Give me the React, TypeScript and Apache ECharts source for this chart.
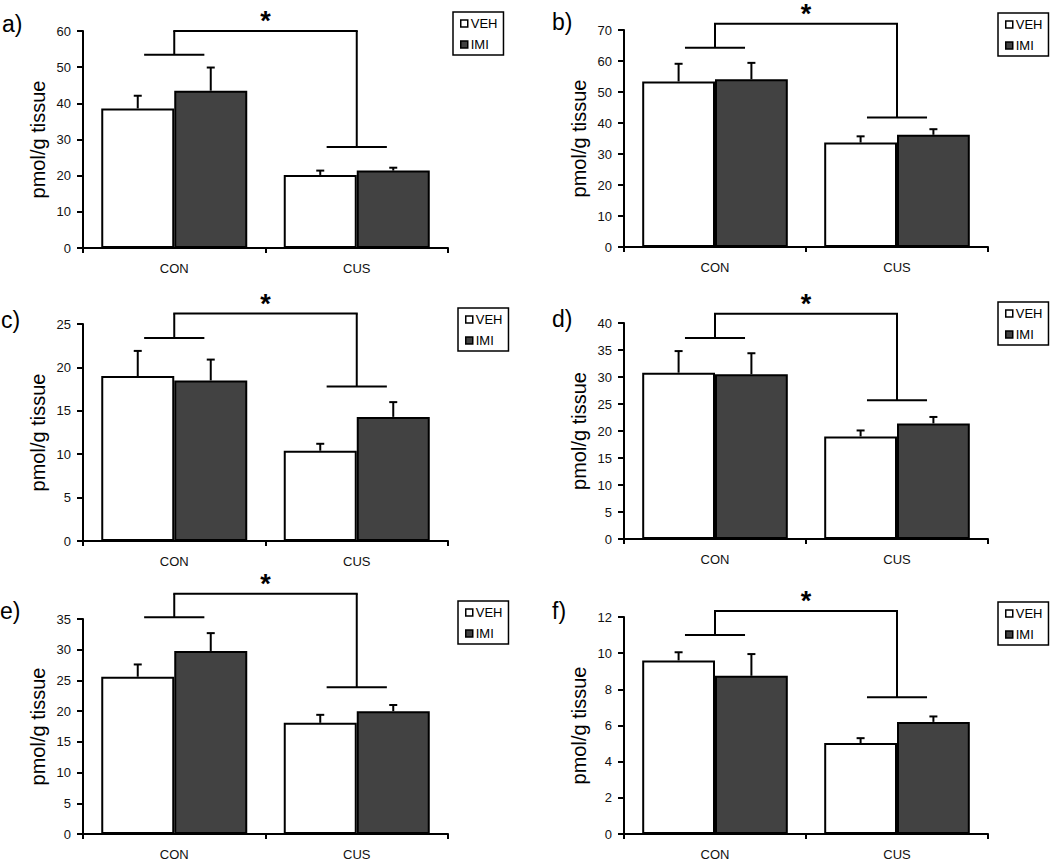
import React, { useEffect, useRef } from 'react';
import * as echarts from 'echarts';

const categories = ['CON', 'CUS'];
const legendLabels = ['VEH', 'IMI'];
const panelLabels = ['a)', 'b)', 'c)', 'd)', 'e)', 'f)'];
const yAxisTitle = 'pmol/g tissue';
const starText = '*';

// mean values per panel: [CON, CUS]
const vehMeans = [[38.6, 20.2], [53.4, 33.7], [19.0, 10.4], [30.8, 19.0], [25.6, 18.1], [9.6, 5.03]];
const vehSems = [[3.5, 1.2], [5.7, 2.0], [2.9, 0.8], [4.0, 1.1], [2.0, 1.3], [0.45, 0.27]];
const imiMeans = [[43.5, 21.4], [54.1, 36.2], [18.5, 14.3], [30.5, 21.4], [29.8, 20.0], [8.75, 6.2]];
const imiSems = [[6.4, 0.8], [5.3, 1.8], [2.4, 1.7], [3.9, 1.2], [2.9, 1.0], [1.2, 0.3]];

// significance bracket levels per panel
const bracketCon = [53.4, 64.3, 23.4, 37.2, 35.3, 11.0];
const bracketCus = [27.9, 41.8, 17.8, 25.7, 23.9, 7.56];
const bracketTop = [60, 72.0, 26.2, 41.7, 39.1, 12.33];

const yMax = [60, 70, 25, 40, 35, 12];
const yInterval = [10, 10, 5, 5, 5, 2];

// layout (pixels)
const gridLayout = [
  { left: 83, top: 31, width: 365, height: 217 },
  { left: 624, top: 30, width: 364, height: 217 },
  { left: 83, top: 324, width: 365, height: 217 },
  { left: 624, top: 323, width: 364, height: 216 },
  { left: 83, top: 619, width: 365, height: 217 },
  { left: 624, top: 617, width: 364, height: 217 },
];
const legendPos = [
  { left: 453, top: 12 },
  { left: 998, top: 13 },
  { left: 458, top: 308 },
  { left: 998, top: 302 },
  { left: 458, top: 601 },
  { left: 998, top: 602 },
];
const labelPos = [
  { x: 2, y: 25 },
  { x: 552, y: 23 },
  { x: 1, y: 321 },
  { x: 552, y: 320 },
  { x: 0, y: 612 },
  { x: 552, y: 612 },
];

const FONT = 'Liberation Sans, Arial, sans-serif';
const DARK = '#424242';

export default function App() {
  const ref = useRef<HTMLDivElement>(null);

  useEffect(() => {
    if (!ref.current) return;
    const chart = echarts.init(ref.current, undefined, { renderer: 'svg' });

    const grids: any[] = [];
    const xAxes: any[] = [];
    const yAxes: any[] = [];
    const series: any[] = [];
    const legends: any[] = [];
    const graphics: any[] = [];

    for (let i = 0; i < 6; i++) {
      grids.push({ ...gridLayout[i], containLabel: false });
      xAxes.push({
        type: 'category',
        gridIndex: i,
        data: categories,
        axisLine: { lineStyle: { color: '#000', width: 2 } },
        axisTick: { show: true, length: 5, lineStyle: { color: '#000', width: 2 } },
        axisLabel: { color: '#111', fontSize: 13, fontFamily: FONT, margin: 14 },
      });
      yAxes.push({
        type: 'value',
        gridIndex: i,
        min: 0,
        max: yMax[i],
        interval: yInterval[i],
        name: yAxisTitle,
        nameLocation: 'middle',
        nameGap: 35,
        nameTextStyle: { fontSize: 20, fontFamily: FONT, color: '#000' },
        axisLine: { show: true, lineStyle: { color: '#000', width: 2 } },
        axisTick: { show: true, length: 6, lineStyle: { color: '#000', width: 2 } },
        axisLabel: { color: '#111', fontSize: 13, fontFamily: FONT, margin: 12 },
        splitLine: { show: false },
      });
      series.push({
        name: legendLabels[0],
        type: 'bar',
        xAxisIndex: i,
        yAxisIndex: i,
        data: vehMeans[i],
        barGap: '0%',
        barCategoryGap: '20%',
        itemStyle: { color: '#fff', borderColor: '#000', borderWidth: 2 },
      });
      series.push({
        name: legendLabels[1],
        type: 'bar',
        xAxisIndex: i,
        yAxisIndex: i,
        data: imiMeans[i],
        barGap: '0%',
        barCategoryGap: '20%',
        itemStyle: { color: DARK, borderColor: '#000', borderWidth: 2 },
      });
      const errData = [
        [0, vehMeans[i][0], vehSems[i][0], 0],
        [1, vehMeans[i][1], vehSems[i][1], 0],
        [0, imiMeans[i][0], imiSems[i][0], 1],
        [1, imiMeans[i][1], imiSems[i][1], 1],
      ];
      series.push({
        type: 'custom',
        xAxisIndex: i,
        yAxisIndex: i,
        z: 5,
        encode: { x: 0, y: 1 },
        data: errData,
        renderItem: (params: any, api: any) => {
          const cat = api.value(0);
          const mean = api.value(1);
          const sem = api.value(2);
          const grp = api.value(3);
          const base = api.coord([cat, mean]);
          const top = api.coord([cat, mean + sem]);
          const catW = api.size([1, 0])[0];
          const barW = (catW * 0.8) / 2;
          const x = base[0] + (grp === 0 ? -barW / 2 : barW / 2);
          return {
            type: 'group',
            children: [
              { type: 'line', shape: { x1: x, y1: base[1], x2: x, y2: top[1] }, style: { stroke: '#000', lineWidth: 2 } },
              { type: 'line', shape: { x1: x - 4, y1: top[1], x2: x + 4, y2: top[1] }, style: { stroke: '#000', lineWidth: 2 } },
            ],
          };
        },
      });
      series.push({
        type: 'custom',
        xAxisIndex: i,
        yAxisIndex: i,
        z: 5,
        clip: false,
        encode: { x: 0, y: 1 },
        data: [[0, bracketCon[i], bracketCus[i], bracketTop[i]]],
        renderItem: (params: any, api: any) => {
          const pCon = api.coord([0, api.value(1)]);
          const pCus = api.coord([1, api.value(2)]);
          const tCon = api.coord([0, api.value(3)]);
          const tCus = api.coord([1, api.value(3)]);
          const half = api.size([1, 0])[0] * 0.165;
          const st = { stroke: '#000', lineWidth: 2 };
          return {
            type: 'group',
            children: [
              { type: 'line', shape: { x1: pCon[0] - half, y1: pCon[1], x2: pCon[0] + half, y2: pCon[1] }, style: st },
              { type: 'line', shape: { x1: pCon[0], y1: pCon[1], x2: tCon[0], y2: tCon[1] }, style: st },
              { type: 'line', shape: { x1: tCon[0] - 1, y1: tCon[1], x2: tCus[0] + 1, y2: tCus[1] }, style: st },
              { type: 'line', shape: { x1: tCus[0], y1: tCus[1], x2: pCus[0], y2: pCus[1] }, style: st },
              { type: 'line', shape: { x1: pCus[0] - half, y1: pCus[1], x2: pCus[0] + half, y2: pCus[1] }, style: st },
              {
                type: 'text',
                x: (tCon[0] + tCus[0]) / 2,
                y: tCon[1] - 10,
                style: {
                  text: starText,
                  fill: '#000',
                  font: `bold 27px ${FONT}`,
                  textAlign: 'center',
                  textVerticalAlign: 'middle',
                },
              },
            ],
          };
        },
      });
      legends.push({
        ...legendPos[i],
        orient: 'vertical',
        data: legendLabels,
        icon: 'rect',
        itemWidth: 7,
        itemHeight: 7,
        itemGap: 8,
        padding: [5, 6, 4, 7],
        borderColor: '#000',
        borderWidth: 1.5,
        selectedMode: false,
        itemStyle: { borderColor: '#000', borderWidth: 1.5 },
        textStyle: { fontSize: 13, fontFamily: FONT, color: '#000', padding: [0, 0, 0, -2] },
      });
      graphics.push({
        type: 'text',
        left: labelPos[i].x,
        top: labelPos[i].y - 13,
        style: { text: panelLabels[i], fill: '#000', font: `23px ${FONT}` },
      });
    }

    chart.setOption({
      animation: false,
      backgroundColor: '#fff',
      grid: grids,
      xAxis: xAxes,
      yAxis: yAxes,
      series,
      legend: legends,
      graphic: graphics,
    });

    return () => chart.dispose();
  }, []);

  return (
    <div
      ref={ref}
      style={{ position: 'absolute', left: 0, top: 0, width: 1050, height: 861, background: '#fff' }}
    />
  );
}
